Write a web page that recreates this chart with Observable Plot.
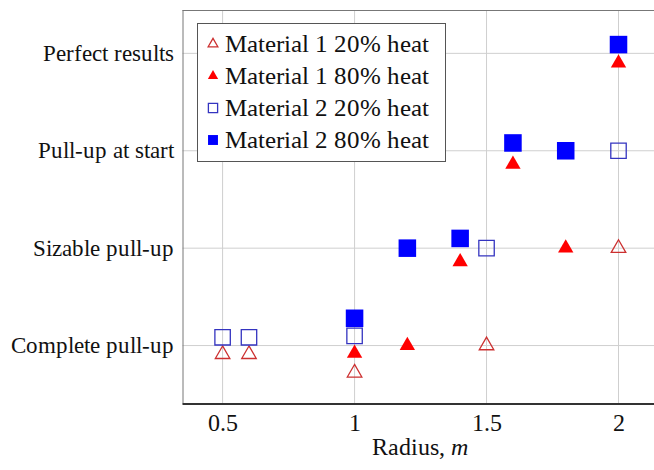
<!DOCTYPE html>
<html>
<head>
<meta charset="utf-8">
<script src="https://cdn.jsdelivr.net/npm/d3@7"></script>
<script src="https://cdn.jsdelivr.net/npm/@observablehq/plot@0.6"></script>
<style>
@font-face { font-family: 'RefSerif'; font-style: normal; font-weight: 400;
  src: local('Liberation Serif'), local('LiberationSerif'), local('LiberationSerif-Regular'), local('Times New Roman'), local('Tinos'), local('DejaVu Serif'); }
@font-face { font-family: 'RefSerif'; font-style: italic; font-weight: 400;
  src: local('Liberation Serif Italic'), local('LiberationSerif-Italic'), local('Times New Roman Italic'), local('DejaVu Serif Italic'); }
</style>
</head>
<body style="margin:0;background:#fff">
<div id="wrap" style="position:relative;width:654px;height:470px;overflow:hidden">
  <div id="chart"></div>
  <div id="legend" style="position:absolute;left:197px;top:23px;width:247px;height:137px;border:1px solid #555;background:#fff"></div>
  <div id="xlabel" style="position:absolute;left:420px;top:434px;transform:translateX(-50%);white-space:nowrap;font-size:24px;color:#111">Radius, <i>m</i></div>
</div>
<script>
const FONT = "RefSerif, 'Liberation Serif', 'Times New Roman', Tinos, Times, 'DejaVu Serif', serif";
// Rating categories (level index 0..3)
const categories = ["Complete pull-up", "Sizable pull-up", "Pull-up at start", "Perfect results"];
const xTicks = [0.5, 1, 1.5, 2];
const seriesNames = ["Material 1 20% heat", "Material 1 80% heat", "Material 2 20% heat", "Material 2 80% heat"];

// Material 1, 20% heat (open triangles)
const m1h20Radius = [0.5, 0.6, 1.0, 1.5, 2.0];
const m1h20Level  = [-0.09, -0.09, -0.28, 0.0, 1.0];
// Material 1, 80% heat (filled triangles)
const m1h80Radius = [1.0, 1.2, 1.4, 1.6, 1.8, 2.0];
const m1h80Level  = [-0.08, 0.0, 0.86, 1.86, 1.0, 2.9];
// Material 2, 20% heat (open squares)
const m2h20Radius = [0.5, 0.6, 1.0, 1.5, 2.0];
const m2h20Level  = [0.085, 0.085, 0.1, 1.0, 2.0];
// Material 2, 80% heat (filled squares)
const m2h80Radius = [1.0, 1.2, 1.4, 1.6, 1.8, 2.0];
const m2h80Level  = [0.28, 1.0, 1.1, 2.08, 2.0, 3.09];

const xDomain = [0.35, 2.15];
const yDomain = [-0.6, 3.44];

const toRows = (xs, ys) => xs.map((x, i) => ({x, y: ys[i]}));
const s1 = toRows(m1h20Radius, m1h20Level);
const s2 = toRows(m1h80Radius, m1h80Level);
const s3 = toRows(m2h20Radius, m2h20Level);
const s4 = toRows(m2h80Radius, m2h80Level);

const styles = [
  {symbol: "triangle", fill: "none", stroke: "#cc3030", strokeWidth: 1.3, r: 5.4, lr: 3.6},
  {symbol: "triangle", fill: "#ff0000", stroke: "none", strokeWidth: 0, r: 5.7, lr: 3.8},
  {symbol: "square", fill: "none", stroke: "#3434c0", strokeWidth: 1.3, r: 8.7, lr: 5.2},
  {symbol: "square", fill: "#0000ff", stroke: "none", strokeWidth: 0, r: 9.9, lr: 5.6}
];

const dotMark = (data, st) => Plot.dot(data, {x: "x", y: "y", symbol: () => st.symbol, r: st.r,
  fill: st.fill, stroke: st.stroke, strokeWidth: st.strokeWidth});

function render() {
  const plot = Plot.plot({
    width: 654,
    height: 470,
    marginTop: 10,
    marginBottom: 66.5,
    marginLeft: 182.5,
    marginRight: 0,
    style: {fontFamily: FONT, fontSize: "23px", color: "#111", background: "#fff", overflow: "visible"},
    x: {domain: xDomain, range: [182.5, 657.6]},
    y: {domain: yDomain},
    symbol: {type: "identity"},
    marks: [
      Plot.gridX(xTicks, {stroke: "#cfcfcf", strokeOpacity: 1, strokeWidth: 1}),
      Plot.gridY([0, 1, 2, 3], {stroke: "#cfcfcf", strokeOpacity: 1, strokeWidth: 1}),
      Plot.ruleY([yDomain[1]], {stroke: "#777", strokeWidth: 1}),
      Plot.ruleX([xDomain[0]], {stroke: "#777", strokeWidth: 1}),
      Plot.ruleY([yDomain[0]], {stroke: "#333", strokeWidth: 2}),
      Plot.axisY([0, 1, 2, 3], {tickSize: 0, tickPadding: 9.5, tickFormat: d => categories[d], fontSize: 23, label: null}),
      Plot.axisX(xTicks, {tickSize: 0, tickPadding: 10.5, tickFormat: d => String(d), fontSize: 23.5, label: null}),
      dotMark(s1, styles[0]),
      dotMark(s3, styles[2]),
      dotMark(s4, styles[3]),
      dotMark(s2, styles[1])
    ]
  });
  plot.style.fontFamily = FONT;
  plot.querySelectorAll("text").forEach(t => t.setAttribute("font-family", FONT));
  document.getElementById("chart").appendChild(plot);

  const legend = document.getElementById("legend");
  seriesNames.forEach((name, i) => {
    const st = styles[i];
    const row = document.createElement("div");
    row.style.cssText = `position:absolute;left:0;top:${4 + i * 32}px;height:32px;display:flex;align-items:center;font-size:25px;color:#111;white-space:nowrap`;
    row.style.fontFamily = FONT;
    const size = Math.PI * st.lr * st.lr;
    const path = d3.symbol(st.symbol === "triangle" ? d3.symbolTriangle : d3.symbolSquare, size)();
    row.innerHTML = `<svg viewBox="-11 -11 22 22" style="width:22px;height:22px;margin-left:4px;margin-right:1px"><path d="${path}" fill="${st.fill}" stroke="${st.stroke}" stroke-width="${st.strokeWidth}"/></svg><span>${name}</span>`;
    legend.appendChild(row);
  });
  document.getElementById("xlabel").style.fontFamily = FONT;
}

if (document.fonts && document.fonts.load) {
  Promise.all([
    document.fonts.load("24px RefSerif"),
    document.fonts.load("italic 24px RefSerif")
  ]).catch(() => {}).then(render);
} else {
  render();
}
</script>
</body>
</html>
